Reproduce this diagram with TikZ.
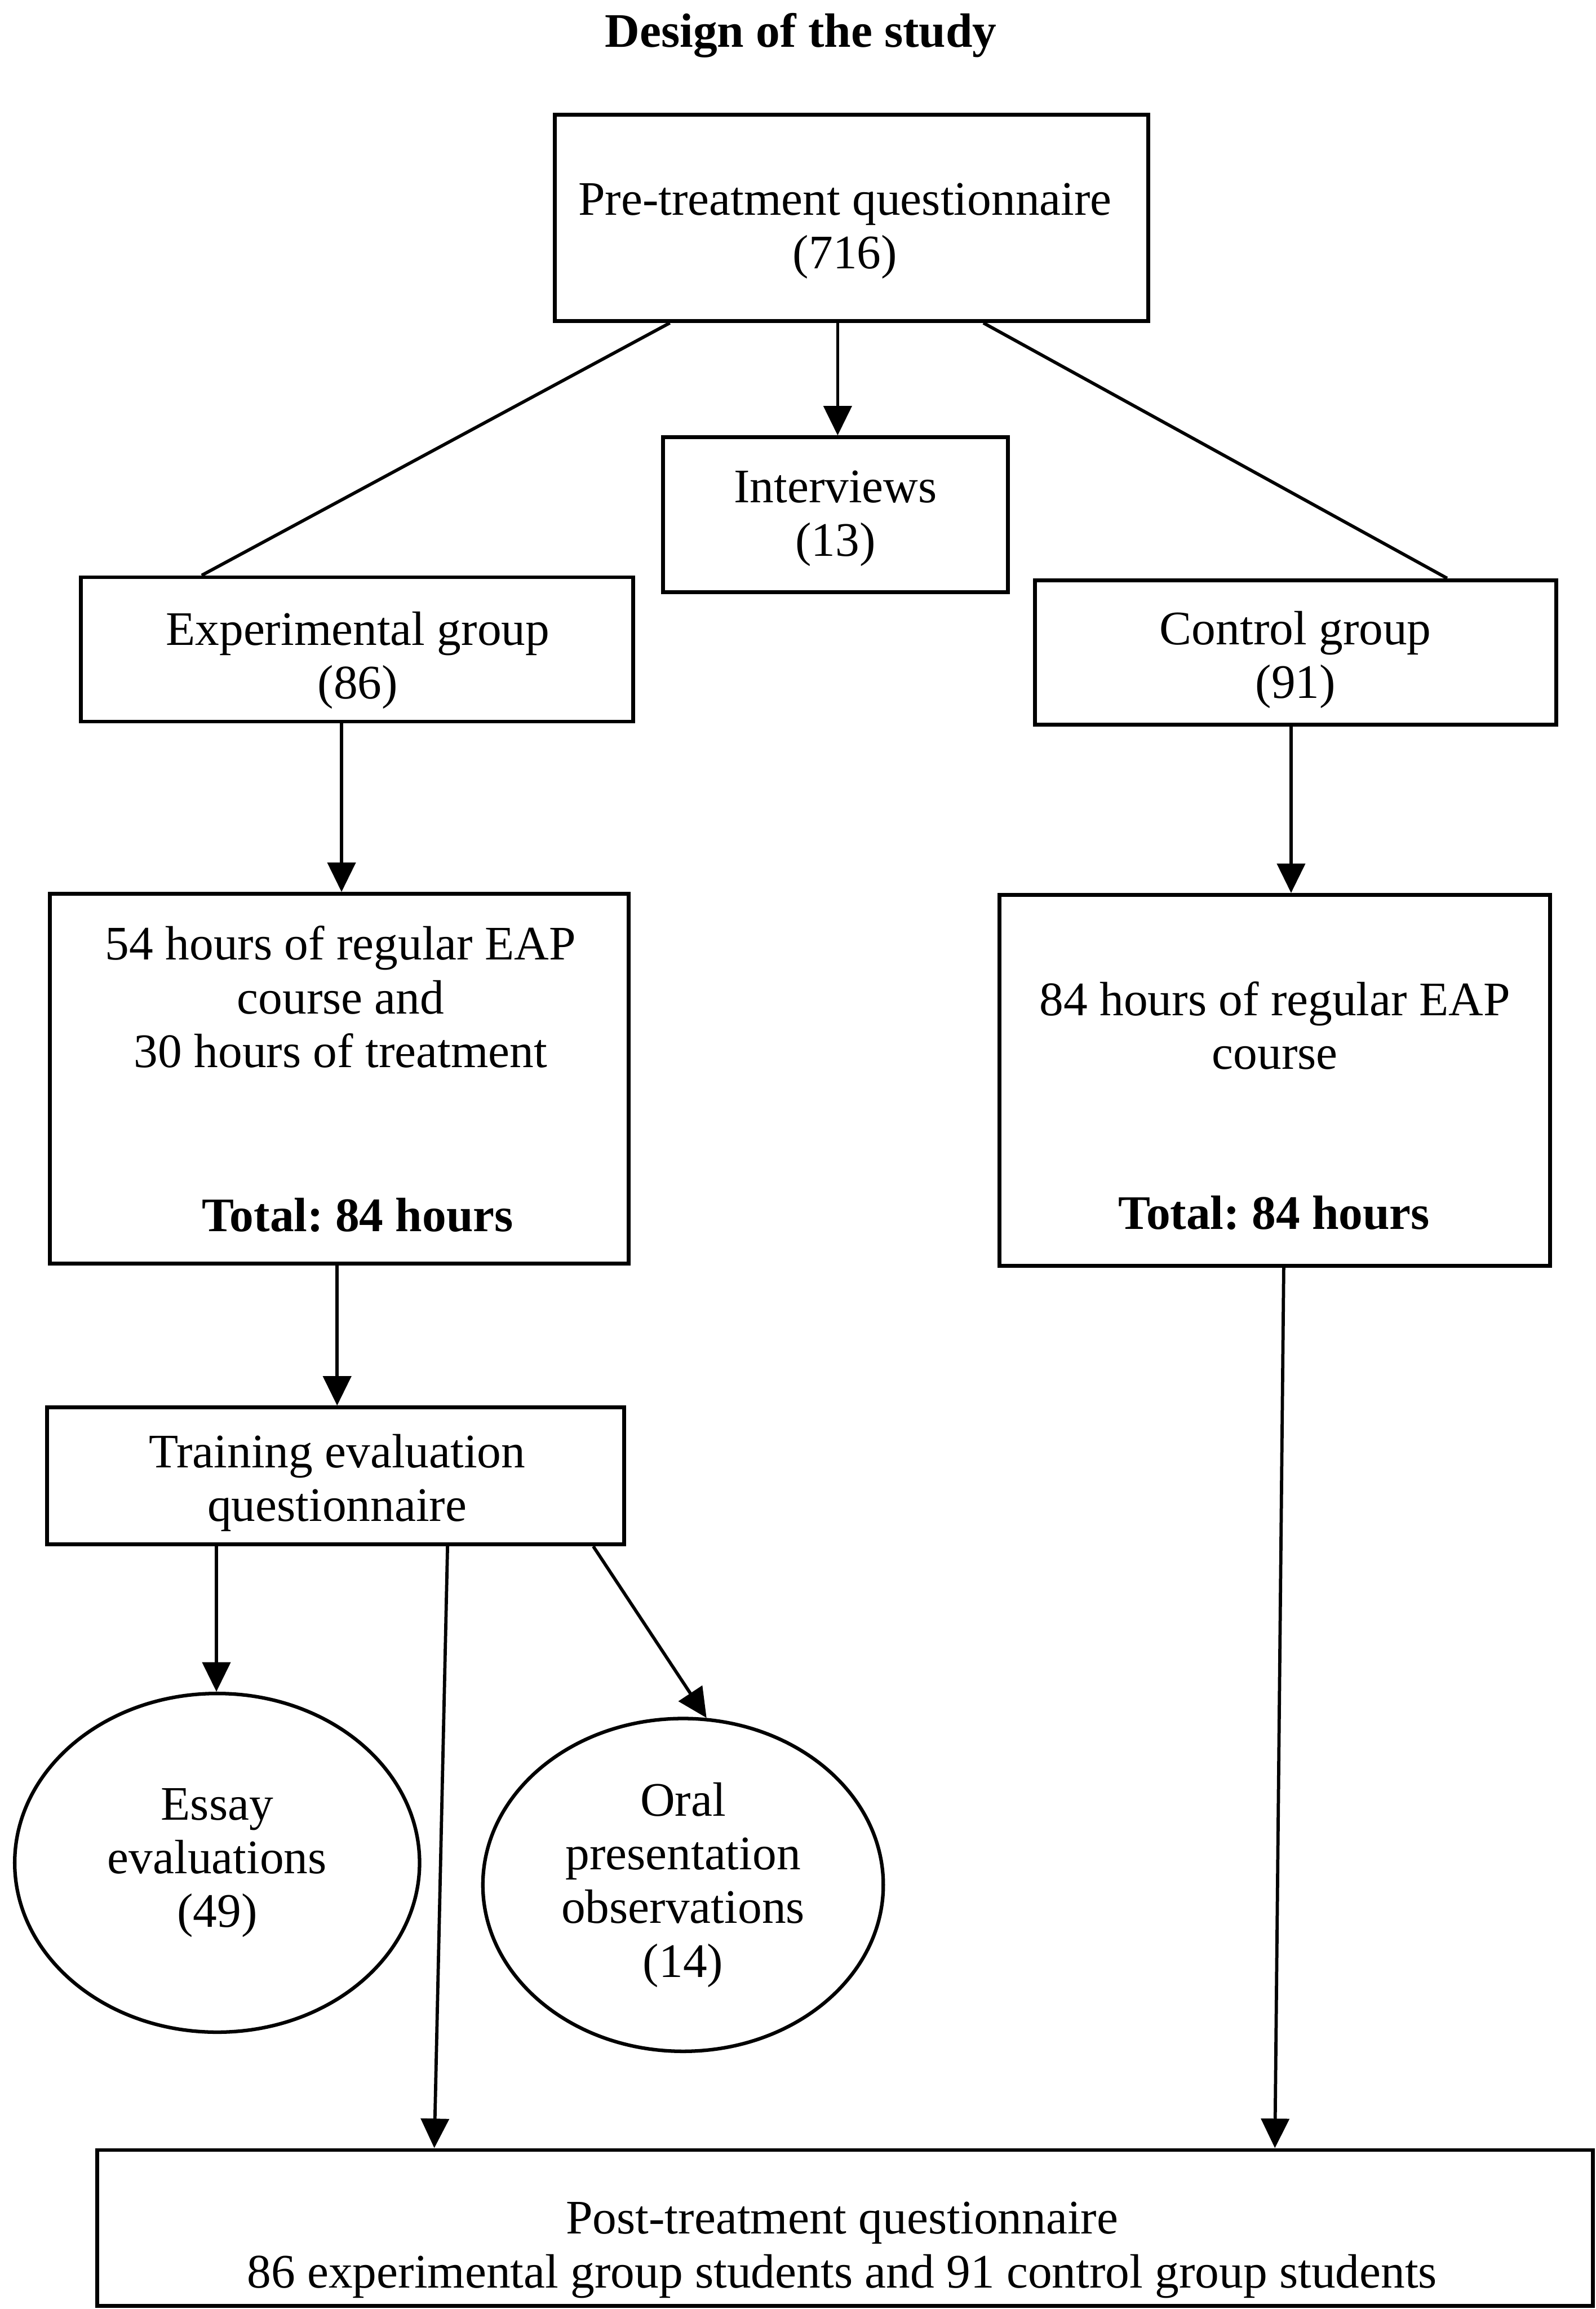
\documentclass[tikz,border=0pt]{standalone}
\usepackage{fontspec}
\setmainfont{Liberation Serif}
\usetikzlibrary{arrows.meta,shapes.geometric}

\begin{document}
\begin{tikzpicture}[x=1pt,y=-1pt,
  txt/.style={font=\fontsize{32.7}{36.5}\selectfont, align=center, inner sep=0pt},
  bold/.style={txt, font=\fontsize{32.7}{36.5}\selectfont\bfseries},
  box/.style={draw, line width=2.6pt, rectangle, inner sep=0pt},
  oval/.style={draw, line width=2.4pt, ellipse, inner sep=0pt, txt},
  link/.style={line width=2.2pt},
  arr/.style={link, -{Triangle[length=20pt,width=19pt]}}
]
% page frame
\useasboundingbox (0,0) rectangle (1084,1568);

% title
\node[bold] (title) at (544,24) {Design of the study};

% boxes
\node[box, minimum width=403pt, minimum height=140pt] (pre)   at (578.5,148)   {};
\node[box, minimum width=234pt, minimum height=105pt] (intv)  at (567.5,349.5) {};
\node[box, minimum width=375pt, minimum height=98pt]  (exp)   at (242.5,441)   {};
\node[box, minimum width=354pt, minimum height=98pt]  (ctrl)  at (880,443)     {};
\node[box, minimum width=393pt, minimum height=251pt] (expc)  at (230.5,732.5) {};
\node[box, minimum width=374pt, minimum height=252pt] (ctrlc) at (866,733.7)   {};
\node[box, minimum width=392pt, minimum height=93pt]  (train) at (228,1002.3)  {};
\node[box, minimum width=1016pt, minimum height=106pt] (post) at (574,1513)    {};

\node[oval, minimum width=275pt, minimum height=230pt] (essay) at (147.5,1265)
  {Essay\\evaluations\\(49)};
\node[oval, minimum width=272pt, minimum height=226pt] (oral) at (464,1280)
  {Oral\\presentation\\observations\\(14)};

% box texts
\node[txt] (pre-t)   at (574,157)    {Pre-treatment questionnaire\\(716)};
\node[txt] (intv-t)  at (567.5,352)  {Interviews\\(13)};
\node[txt] (exp-t)   at (243,448.5)  {Experimental group\\(86)};
\node[txt] (ctrl-t)  at (880,448)    {Control group\\(91)};
\node[txt] (expc-t)  at (231.4,677)  {54 hours of regular EAP\\course and\\30 hours of treatment};
\node[bold] (expc-T) at (243,825)    {Total:\ 84 hours};
\node[txt] (ctrlc-t) at (866,696.5)  {84 hours of regular EAP\\course};
\node[bold] (ctrlc-T) at (865.5,823.5) {Total:\ 84 hours};
\node[txt] (train-t) at (229,1007)   {Training evaluation\\questionnaire};
\node[txt] (post-t)  at (572,1528)   {Post-treatment questionnaire\\86 experimental group students and 91 control group students};

% x positions of the connector ends
\path (455,0) coordinate (xa) (137,0) coordinate (xb)
      (569,0) coordinate (xc)
      (668,0) coordinate (xd) (983,0) coordinate (xe)
      (232,0) coordinate (xf) (877,0) coordinate (xg)
      (229,0) coordinate (xfb)
      (872,0) coordinate (xh) (866,0) coordinate (xi)
      (147,0) coordinate (xj)
      (304,0) coordinate (xk) (295,0) coordinate (xl)
      (403,0) coordinate (xm);

% connectors
\draw[link] (pre.south -| xa) -- (exp.north -| xb);
\draw[arr]  (pre.south -| xc) -- (intv.north -| xc);
\draw[link] (pre.south -| xd) -- (ctrl.north -| xe);
\draw[arr]  (exp.south -| xf) -- (expc.north -| xf);
\draw[arr]  (ctrl.south -| xg) -- (ctrlc.north -| xg);
\draw[arr]  (expc.south -| xfb) -- (train.north -| xfb);
\draw[arr]  (ctrlc.south -| xh) -- (post.north -| xi);
\draw[arr]  (train.south -| xj) -- (essay.north -| xj);
\draw[arr]  (train.south -| xk) -- (post.north -| xl);
\draw[arr]  (train.south -| xm) -- (oral.82);
\end{tikzpicture}
\end{document}
